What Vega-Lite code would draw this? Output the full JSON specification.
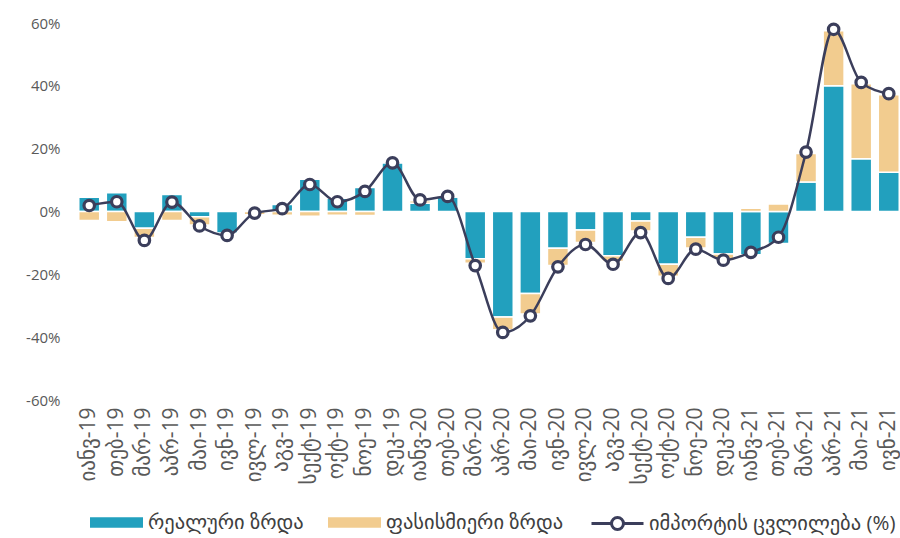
{
  "$schema": "https://vega.github.io/schema/vega-lite/v6.json",
  "autosize": "none",
  "width": 826,
  "height": 377,
  "padding": {"left": 76, "top": 23, "right": 0, "bottom": 138},
  "background": "white",
  "config": {
    "view": {"stroke": null},
    "font": "Open Sans, DejaVu Sans",
    "axis": {"grid": false, "domain": false, "ticks": false, "labelColor": "#595959", "title": null}
  },
  "data": {
    "values": [
      {"month": "იანვ-19", "real": 4.5, "price": -2.9, "total": 1.9},
      {"month": "თებ-19", "real": 6.0, "price": -3.3, "total": 3.1},
      {"month": "მარ-19", "real": -5.3, "price": -3.0, "total": -9.2},
      {"month": "აპრ-19", "real": 5.4, "price": -2.9, "total": 3.0},
      {"month": "მაი-19", "real": -1.7, "price": -2.6, "total": -4.6},
      {"month": "ივნ-19", "real": -6.9, "price": -0.5, "total": -7.6},
      {"month": "ივლ-19", "real": 0.5, "price": -1.0, "total": -0.5},
      {"month": "აგვ-19", "real": 2.2, "price": -1.2, "total": 0.9},
      {"month": "სექტ-19", "real": 10.3, "price": -1.5, "total": 8.6},
      {"month": "ოქტ-19", "real": 4.2, "price": -1.2, "total": 3.1},
      {"month": "ნოე-19", "real": 7.6, "price": -1.3, "total": 6.4},
      {"month": "დეკ-19", "real": 15.5, "price": 0.3, "total": 15.5},
      {"month": "იანვ-20", "real": 2.6, "price": 0.8, "total": 3.7},
      {"month": "თებ-20", "real": 4.6, "price": 0.3, "total": 4.8},
      {"month": "მარ-20", "real": -15.0, "price": -1.5, "total": -17.2},
      {"month": "აპრ-20", "real": -33.6, "price": -4.0, "total": -38.5},
      {"month": "მაი-20", "real": -26.1, "price": -6.5, "total": -33.2},
      {"month": "ივნ-20", "real": -11.7, "price": -5.5, "total": -17.6},
      {"month": "ივლ-20", "real": -5.9, "price": -4.0, "total": -10.5},
      {"month": "აგვ-20", "real": -14.1, "price": -1.8, "total": -16.8},
      {"month": "სექტ-20", "real": -3.0, "price": -3.2, "total": -6.7},
      {"month": "ოქტ-20", "real": -16.8, "price": -3.8, "total": -21.3},
      {"month": "ნოე-20", "real": -8.2, "price": -3.4, "total": -12.0},
      {"month": "დეკ-20", "real": -13.5, "price": -1.5, "total": -15.5},
      {"month": "იანვ-21", "real": -13.8, "price": 1.0, "total": -13.0},
      {"month": "თებ-21", "real": -10.2, "price": 2.4, "total": -8.2},
      {"month": "მარ-21", "real": 9.4, "price": 9.1, "total": 18.9},
      {"month": "აპრ-21", "real": 40.0, "price": 17.5, "total": 58.0},
      {"month": "მაი-21", "real": 16.8, "price": 23.9, "total": 41.1},
      {"month": "ივნ-21", "real": 12.5, "price": 24.7, "total": 37.5}
    ]
  },
  "encoding": {
    "x": {
      "field": "month", "type": "nominal", "sort": null,
      "scale": {"paddingInner": 0.24, "paddingOuter": 0.1},
      "axis": {"labelAngle": -90, "labelFontSize": 21, "labelPadding": 7}
    }
  },
  "layer": [
    {
      "mark": {"type": "rule", "color": "#d9d9d9", "strokeWidth": 2},
      "encoding": {"y": {"datum": 0, "type": "quantitative"}}
    },
    {
      "transform": [{"fold": ["real", "price"], "as": ["key", "value"]}],
      "mark": {"type": "bar", "stroke": "white", "strokeWidth": 1.5},
      "encoding": {
        "y": {
          "field": "value", "type": "quantitative", "stack": "zero",
          "scale": {"domain": [-60, 60], "nice": false},
          "axis": {"values": [-60, -40, -20, 0, 20, 40, 60], "labelExpr": "datum.value + '%'", "labelFontSize": 15, "labelPadding": 16}
        },
        "color": {
          "field": "key", "type": "nominal",
          "scale": {"domain": ["real", "price"], "range": ["#22A0BE", "#F2CC8F"]},
          "legend": {
            "orient": "none", "legendX": 14, "legendY": 473, "direction": "horizontal", "title": null,
            "labelExpr": "datum.value == 'real' ? 'რეალური ზრდა' : 'ფასისმიერი ზრდა'",
            "labelFontSize": 20.5, "labelLimit": 0, "labelColor": "#404040", "labelOffset": 5, "columnPadding": 24,
            "symbolType": "M-1,-0.2H1V0.2H-1Z", "symbolSize": 2809, "symbolStrokeWidth": 0
          }
        },
        "order": {"field": "key", "sort": "descending"}
      }
    },
    {
      "mark": {
        "type": "line", "interpolate": "monotone", "strokeWidth": 2.5,
        "point": {"filled": true, "fill": "white", "stroke": "#3B3E5B", "strokeWidth": 3.2, "size": 110}
      },
      "encoding": {
        "y": {"field": "total", "type": "quantitative"},
        "stroke": {
          "datum": "იმპორტის ცვლილება (%)", "type": "nominal",
          "scale": {"range": ["#3B3E5B"]},
          "legend": {
            "orient": "none", "legendX": 514, "legendY": 473, "title": null,
            "labelFontSize": 20.5, "labelLimit": 0, "labelColor": "#404040", "labelOffset": 4,
            "symbolType": "M-1,0H-0.23M0.23,0H1M-0.23,0A0.23,0.23,0,1,1,0.23,0A0.23,0.23,0,1,1,-0.23,0Z",
            "symbolSize": 2704, "symbolStrokeWidth": 3, "symbolFillColor": "white"
          }
        }
      }
    }
  ]
}
